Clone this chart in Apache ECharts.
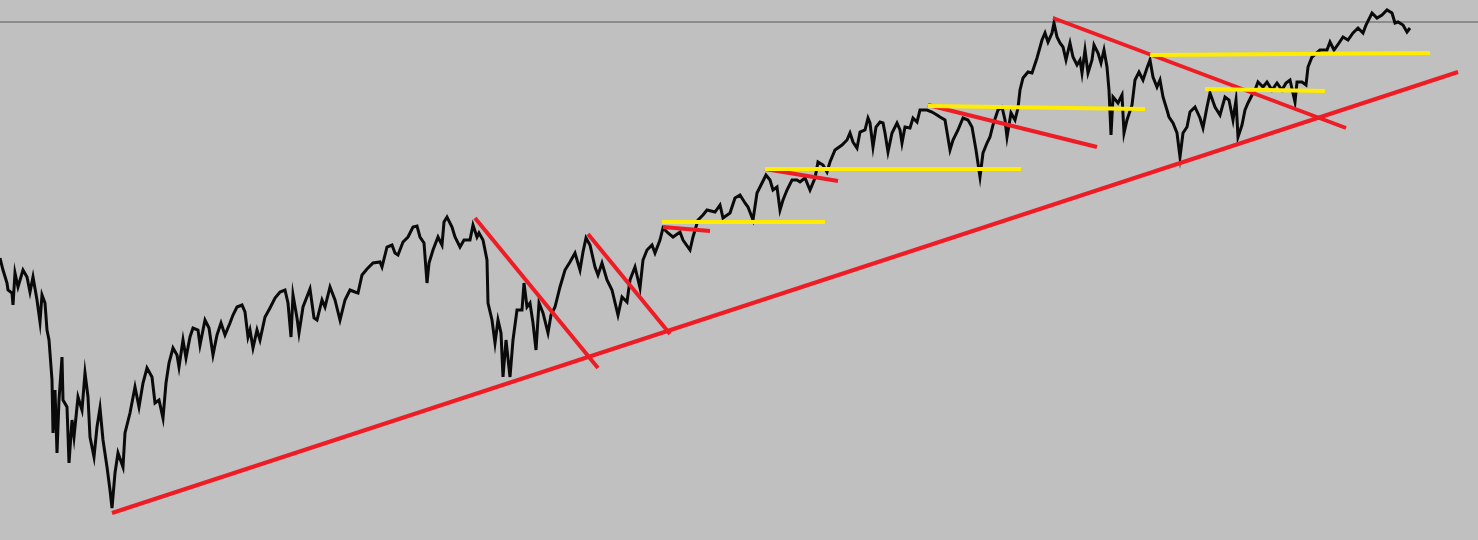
<!DOCTYPE html>
<html>
<head>
<meta charset="utf-8">
<script src="https://cdn.jsdelivr.net/npm/echarts@6/dist/echarts.min.js"></script>
<style>
html,body{margin:0;padding:0;background:#c0c0c0;}
#chart{width:1478px;height:540px;}
</style>
</head>
<body>
<div id="chart"></div>
<script>
// bar index (time) of each sampled price point
var barIdx = [0,3,7,8,12,13,15,18,23,27,30,33,37,40,42,45,47,49,52,53,55,57,59,62,63,67,69,72,74,78,82,85,88,90,94,97,100,103,107,110,112,115,118,123,125,130,135,139,143,147,152,155,159,163,166,169,173,177,179,183,186,190,193,198,200,205,209,213,217,221,225,230,233,237,242,245,248,250,253,257,260,265,270,275,280,285,288,291,293,297,299,303,310,314,317,322,325,330,335,340,345,350,355,358,362,367,373,380,382,387,392,395,398,403,408,413,417,420,424,427,429,433,438,442,444,447,452,455,460,464,470,473,477,479,483,487,488,492,495,498,501,503,506,510,513,517,522,524,527,530,533,536,539,543,548,551,555,560,565,570,575,580,583,586,590,595,598,602,607,612,618,622,627,630,635,640,643,647,652,655,660,663,668,673,680,683,690,693,698,703,707,715,720,723,730,735,740,745,748,753,757,762,766,770,773,777,780,783,787,792,797,800,805,810,815,818,823,827,830,835,842,847,850,853,857,860,865,868,870,873,876,880,883,885,888,892,897,900,902,905,910,913,917,920,927,932,937,940,945,950,953,958,963,968,972,976,980,983,987,990,993,998,1002,1005,1007,1011,1015,1018,1020,1023,1028,1032,1037,1042,1045,1048,1052,1054,1057,1060,1063,1066,1070,1073,1077,1080,1082,1085,1088,1092,1094,1098,1101,1104,1107,1109,1111,1113,1118,1122,1124,1127,1132,1135,1139,1143,1147,1150,1153,1157,1160,1163,1167,1169,1173,1177,1180,1183,1187,1190,1195,1200,1203,1207,1210,1215,1220,1225,1229,1233,1236,1238,1242,1245,1248,1252,1255,1258,1263,1267,1272,1277,1282,1286,1290,1295,1297,1302,1306,1308,1312,1320,1327,1330,1334,1339,1343,1348,1353,1358,1363,1366,1372,1377,1382,1387,1392,1395,1398,1403,1407,1410];
// price level at each sampled point
var level = [282,270,257,250,247,235,267,253,270,263,248,263,240,218,245,237,210,200,160,107,150,87,140,183,140,133,77,120,103,143,130,167,143,103,83,113,132,100,73,50,32,67,87,73,107,127,153,133,157,172,163,137,140,122,157,177,192,185,173,200,182,203,212,210,195,220,212,185,205,217,205,217,225,233,235,228,203,210,192,210,200,223,232,242,248,250,237,203,245,222,207,233,251,222,220,240,233,253,240,220,240,250,248,247,265,271,277,278,273,293,295,287,285,298,303,313,314,303,297,257,277,290,303,295,318,323,313,303,293,300,300,315,303,307,300,280,237,220,197,220,207,163,200,163,200,230,230,257,233,237,217,190,237,227,207,225,233,253,270,278,287,270,288,302,295,273,265,277,260,250,225,243,238,260,273,252,280,290,295,287,300,312,307,303,308,300,290,303,320,325,330,328,335,322,327,342,345,337,333,320,347,357,365,360,350,353,330,340,350,360,360,358,362,350,362,378,375,368,378,390,395,400,407,398,392,408,410,422,417,393,413,418,417,407,388,407,417,410,397,413,412,422,418,430,430,428,425,423,420,390,400,410,422,420,413,390,363,387,397,403,415,430,433,420,403,427,420,432,450,462,468,467,482,500,507,498,507,517,503,497,493,480,497,483,475,480,467,490,467,480,495,487,477,490,473,450,405,443,437,445,407,420,435,460,468,460,472,480,463,453,460,443,430,423,417,407,383,407,413,428,433,422,412,433,447,433,425,443,440,420,440,403,415,430,437,445,450,458,453,458,450,457,450,457,460,438,458,458,455,473,483,490,490,498,490,497,503,500,507,512,507,515,527,522,525,530,527,517,518,515,508,512];

// drawn trend lines: [startBar, startLevel, endBar, endLevel]
var redLines = [
  [112,27,1458,468],
  [475,322,598,172],
  [588,306,670,206],
  [663,313,710,309],
  [765,371,838,359],
  [928,435,1097,393],
  [1053,522,1346,412]
];
var yellowLines = [
  [662,318,825,318],
  [765,371,1021,371],
  [928,434,1145,431],
  [1150,485,1430,487],
  [1205,451,1325,449]
];
// horizontal reference level
var refLevel = 518;

var chart = echarts.init(document.getElementById('chart'), null, {renderer:'canvas'});
var priceData = barIdx.map(function(b,i){ return [b, level[i]]; });

var series = [];
series.push({
  type:'line', data:[[0,refLevel],[1478,refLevel]], symbol:'none', silent:true, z:1,
  lineStyle:{color:'#8c8c8c', width:2}
});
series.push({
  type:'line', data:priceData, symbol:'none', z:2,
  lineStyle:{color:'#0a0a0a', width:3, join:'miter'}
});
redLines.forEach(function(l){
  series.push({type:'line', data:[[l[0],l[1]],[l[2],l[3]]], symbol:'none', z:3,
    lineStyle:{color:'#ee1c25', width:4}});
});
yellowLines.forEach(function(l){
  series.push({type:'line', data:[[l[0],l[1]],[l[2],l[3]]], symbol:'none', z:4,
    lineStyle:{color:'#ffec00', width:4}});
});

chart.setOption({
  animation:false,
  backgroundColor:'#c0c0c0',
  grid:{left:0,right:0,top:0,bottom:0},
  xAxis:{type:'value', min:0, max:1478, show:false},
  yAxis:{type:'value', min:0, max:540, show:false},
  series:series
});
</script>
</body>
</html>
